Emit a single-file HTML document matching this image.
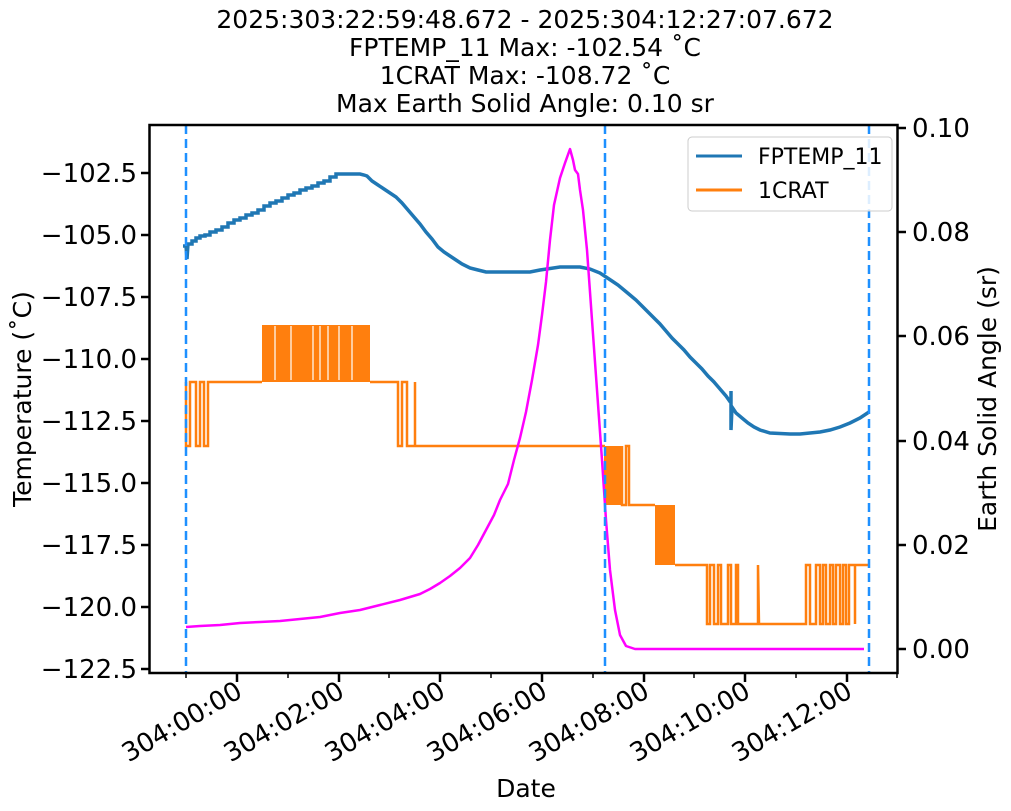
<!DOCTYPE html>
<html><head><meta charset="utf-8"><style>body{margin:0;background:#fff}svg{display:block}text{font-family:"DejaVu Sans","Liberation Sans",sans-serif;fill:#000}</style></head><body>
<svg width="1011" height="811" viewBox="0 0 1011 811" xmlns="http://www.w3.org/2000/svg">
<g font-size="25" text-anchor="middle">
<text x="525" y="28">2025:303:22:59:48.672 - 2025:304:12:27:07.672</text>
<text x="525" y="56">FPTEMP_11 Max: -102.54 ˚C</text>
<text x="525" y="84">1CRAT Max: -108.72 ˚C</text>
<text x="525" y="112">Max Earth Solid Angle: 0.10 sr</text>
</g>
<!-- orange -->
<g stroke="#ff7f0e" stroke-width="2.5" fill="none">
<polyline points="186,382 186,446 190,446 190,382 196,382 196,446 200,446 200,382 204,382 204,446 208,446 208,382 262,382"/>
<rect x="262" y="325" width="108" height="57" fill="#ff7f0e" stroke="none"/>
<g stroke="#fff" stroke-width="1.2"><line x1="275" y1="326" x2="275" y2="380"/><line x1="291" y1="326" x2="291" y2="380"/><line x1="313" y1="326" x2="313" y2="380"/><line x1="320" y1="326" x2="320" y2="380"/><line x1="328" y1="326" x2="328" y2="380"/><line x1="339" y1="326" x2="339" y2="380"/><line x1="352" y1="326" x2="352" y2="380"/></g>
<polyline points="370,382 398,382 398,446 402,446 402,382 407,382 407,446 415,446 415,382 415,446 605,446"/>
<rect x="604" y="446" width="18" height="59" fill="#ff7f0e" stroke="none"/>
<polyline points="622,446 622,505 626,505 626,446 629,446 629,505 655,505"/>
<rect x="655" y="505" width="20" height="60" fill="#ff7f0e" stroke="none"/>
<polyline points="675,565 707,565 707,624 710,624 710,565 714,565 714,624 718,624 718,565 721,565 721,624 728,624 728,565 731,565 731,624 736,624 736,565 738,565 738,624 758,624 758,565 759,624 806,624 806,565 810,565 810,624 816,624 816,565 820,565 820,624 823,624 823,565 826,565 826,624 830,624 830,565 833,565 833,624 836,624 836,565 840,565 840,624 843,624 843,565 846,565 846,624 849,624 849,565 855,565 855,624 855,565 869,565"/>
</g>
<!-- blue -->
<polyline fill="none" stroke="#1f77b4" stroke-width="3.5" stroke-linejoin="miter" points="183,246 186,246 187,259 188,244 192,244 192,241 196,241 196,238 200,238 200,236 205,236 205,235 210,235 210,232 216,232 216,230 222,230 222,227 228,227 228,223 234,223 234,220 240,220 240,218 246,218 246,215 252,215 252,213 258,213 258,210 264,210 264,206 270,206 270,203 276,203 276,201 282,201 282,198 288,198 288,195 294,195 294,193 300,193 300,190 306,190 306,188 312,188 312,186 318,186 318,183 324,183 324,181 330,181 330,177 336,177 336,174 360,174 364,175 367,176 372,181 378,185 384,189 390,193 396,197 402,203 408,210 414,217 420,224 426,232 432,239 438,247 444,252 450,256 456,260 462,264 470,268 478,270 486,272 500,272 530,272 540,270 560,267 580,267 590,269 600,273 606,277 612,281 618,285 624,290 630,295 636,300 642,306 648,312 654,318 660,324 666,331 672,338 678,344 684,350 690,357 696,363 702,369 708,376 714,382 720,389 726,396 731,403 731,391 731,430 732,407 736,413 742,418 748,423 754,427 760,430 770,433 790,434 800,434 810,433 820,432 830,430 840,427 850,423 860,418 869,412"/>
<!-- magenta -->
<polyline fill="none" stroke="#ff00ff" stroke-width="2.5" stroke-linejoin="round" points="186,627 200,626 220,625 240,623 260,622 280,621 300,619 320,617 340,613 360,610 380,605 400,600 420,594 430,589 440,583 450,576 460,568 470,558 478,545 486,530 494,515 500,500 508,484 514,460 520,438 526,412 532,380 538,345 542,315 546,282 550,240 554,205 560,178 565,163 570,149 573,160 575,170 578,174 580,190 583,210 587,250 592,320 597,390 602,460 606,520 610,570 615,610 620,635 626,646 635,649 864,649"/>
<!-- dashed lines -->
<g stroke="#1e90ff" stroke-width="2.5" stroke-dasharray="9,5"><line x1="186" y1="125" x2="186" y2="673"/><line x1="605" y1="125" x2="605" y2="673"/><line x1="869" y1="125" x2="869" y2="673"/></g>
<!-- axes -->
<rect x="149.5" y="125" width="748" height="548" fill="none" stroke="#000" stroke-width="2.5"/>
<g stroke="#000" stroke-width="2.5">
<line x1="149" y1="173" x2="141" y2="173"/><line x1="149" y1="235" x2="141" y2="235"/><line x1="149" y1="297" x2="141" y2="297"/><line x1="149" y1="359" x2="141" y2="359"/><line x1="149" y1="421" x2="141" y2="421"/><line x1="149" y1="483" x2="141" y2="483"/><line x1="149" y1="545" x2="141" y2="545"/><line x1="149" y1="607" x2="141" y2="607"/><line x1="149" y1="669" x2="141" y2="669"/>
<line x1="898" y1="128" x2="906" y2="128"/><line x1="898" y1="232" x2="906" y2="232"/><line x1="898" y1="336" x2="906" y2="336"/><line x1="898" y1="441" x2="906" y2="441"/><line x1="898" y1="545" x2="906" y2="545"/><line x1="898" y1="649" x2="906" y2="649"/>
<line x1="237" y1="673" x2="237" y2="682"/><line x1="339" y1="673" x2="339" y2="682"/><line x1="440" y1="673" x2="440" y2="682"/><line x1="542" y1="673" x2="542" y2="682"/><line x1="644" y1="673" x2="644" y2="682"/><line x1="745" y1="673" x2="745" y2="682"/><line x1="847" y1="673" x2="847" y2="682"/>
</g>
<g stroke="#000" stroke-width="1.5">
<line x1="186" y1="673" x2="186" y2="678"/><line x1="288" y1="673" x2="288" y2="678"/><line x1="389" y1="673" x2="389" y2="678"/><line x1="491" y1="673" x2="491" y2="678"/><line x1="593" y1="673" x2="593" y2="678"/><line x1="694" y1="673" x2="694" y2="678"/><line x1="796" y1="673" x2="796" y2="678"/><line x1="897" y1="673" x2="897" y2="678"/>
</g>
<g font-size="26" text-anchor="end">
<text x="137" y="182">−102.5</text><text x="137" y="244">−105.0</text><text x="137" y="306">−107.5</text><text x="137" y="368">−110.0</text><text x="137" y="430">−112.5</text><text x="137" y="492">−115.0</text><text x="137" y="554">−117.5</text><text x="137" y="616">−120.0</text><text x="137" y="678">−122.5</text>
</g>
<g font-size="26" text-anchor="start">
<text x="912" y="137">0.10</text><text x="912" y="241">0.08</text><text x="912" y="345">0.06</text><text x="912" y="450">0.04</text><text x="912" y="554">0.02</text><text x="912" y="658">0.00</text>
</g>
<g font-size="26" text-anchor="end">
<text transform="translate(244,696) rotate(-30)">304:00:00</text>
<text transform="translate(346,696) rotate(-30)">304:02:00</text>
<text transform="translate(447,696) rotate(-30)">304:04:00</text>
<text transform="translate(549,696) rotate(-30)">304:06:00</text>
<text transform="translate(651,696) rotate(-30)">304:08:00</text>
<text transform="translate(752,696) rotate(-30)">304:10:00</text>
<text transform="translate(854,696) rotate(-30)">304:12:00</text>
</g>
<text x="526" y="797" font-size="25" text-anchor="middle">Date</text>
<text transform="translate(31,399) rotate(-90)" font-size="25" text-anchor="middle">Temperature (˚C)</text>
<text transform="translate(996,399) rotate(-90)" font-size="25" text-anchor="middle">Earth Solid Angle (sr)</text>
<!-- legend -->
<rect x="688" y="137" width="204" height="74" rx="4" fill="#fff" fill-opacity="0.85" stroke="#ccc" stroke-width="1"/>
<line x1="696" y1="156" x2="742" y2="156" stroke="#1f77b4" stroke-width="3"/>
<line x1="696" y1="190" x2="742" y2="190" stroke="#ff7f0e" stroke-width="3"/>
<text x="758" y="164" font-size="22">FPTEMP_11</text>
<text x="758" y="198" font-size="22">1CRAT</text>
</svg>
</body></html>
